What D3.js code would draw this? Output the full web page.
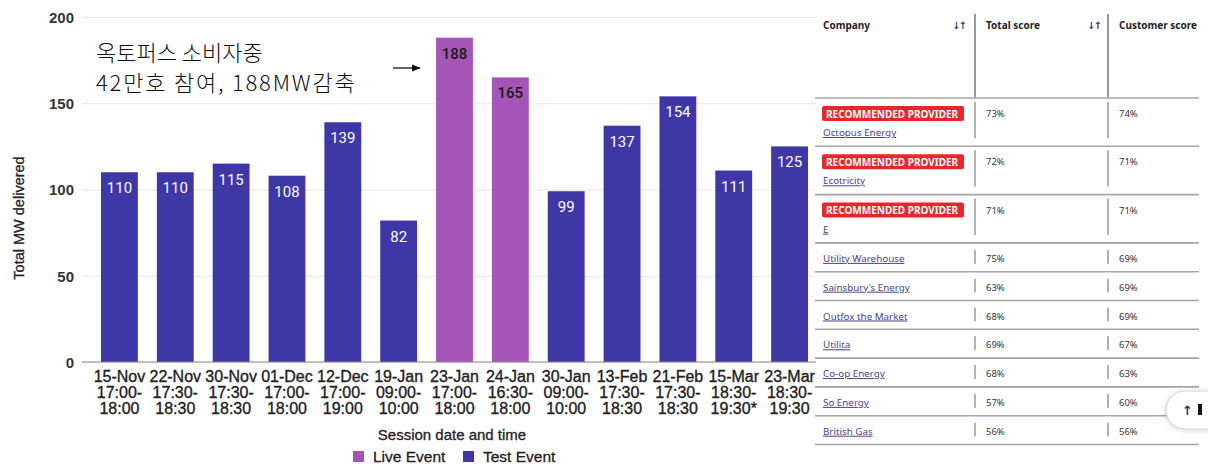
<!DOCTYPE html>
<html>
<head>
<meta charset="utf-8">
<script src="https://cdn.jsdelivr.net/npm/d3@7"></script>
<style>
  body { margin: 0; background: #fff; }
  svg { display: block; }
  .grid line { stroke: #e6e6e6; }
  .grid text { font-family: "Liberation Sans", Arial, sans-serif; font-size: 15px; font-weight: bold; fill: #333; }
  .xax text { font-family: "Liberation Sans", Arial, sans-serif; font-size: 16px; fill: #222; stroke: #222; stroke-width: 0.35px; }
  .tbl text { font-family: "Noto Sans", "Open Sans", sans-serif; }
</style>
</head>
<body>
<svg width="1208" height="468"></svg>
<script>
// chart data
var sessions = ["15-Nov", "22-Nov", "30-Nov", "01-Dec", "12-Dec", "19-Jan", "23-Jan", "24-Jan", "30-Jan", "13-Feb", "21-Feb", "15-Mar", "23-Mar"];
var startTimes = ["17:00-", "17:30-", "17:30-", "17:00-", "17:00-", "09:00-", "17:00-", "16:30-", "09:00-", "17:30-", "17:30-", "18:30-", "18:30-"];
var endTimes = ["18:00", "18:30", "18:30", "18:00", "19:00", "10:00", "18:00", "18:00", "10:00", "18:30", "18:30", "19:30*", "19:30"];
var mwDelivered = [110, 110, 115, 108, 139, 82, 188, 165, 99, 137, 154, 111, 125];
var eventType = ["Test", "Test", "Test", "Test", "Test", "Test", "Live", "Live", "Test", "Test", "Test", "Test", "Test"];
var yTicks = [0, 50, 100, 150, 200];
var legendKeys = ["Live Event", "Test Event"];

// table data (right side)
var companies = ["Octopus Energy", "Ecotricity", "E", "Utility Warehouse", "Sainsbury's Energy", "Outfox the Market", "Utilita", "Co-op Energy", "So Energy", "British Gas"];
var recommended = [true, true, true, false, false, false, false, false, false, false];
var totalScore = ["73%", "72%", "71%", "75%", "63%", "68%", "69%", "68%", "57%", "56%"];
var customerScore = ["74%", "71%", "71%", "69%", "69%", "69%", "67%", "63%", "60%", "56%"];

var svg = d3.select("svg");

var color = { Test: "#3e37a5", Live: "#a455b6" };

var x = d3.scaleBand().domain(sessions).range([91.5, 817.5]).paddingInner(0.34).paddingOuter(0.17);
var y = d3.scaleLinear().domain([0, 200]).range([362, 17]);

var left = 82, right = 816;

// gridlines + y labels
var grid = svg.append("g")
    .attr("class", "grid")
    .attr("transform", "translate(" + left + ",0)")
    .call(d3.axisLeft(y).tickValues(yTicks).tickSize(-(right - left)).tickPadding(8));
grid.select(".domain").remove();
grid.selectAll(".tick text").attr("dy", "0.36em");

// bars
svg.append("g").selectAll("rect")
    .data(mwDelivered)
  .enter().append("rect")
    .attr("x", function(d, i) { return x(sessions[i]); })
    .attr("y", function(d) { return y(d); })
    .attr("width", x.bandwidth())
    .attr("height", function(d) { return y(0) - y(d); })
    .attr("fill", function(d, i) { return color[eventType[i]]; });

// value labels
svg.append("g").selectAll("text")
    .data(mwDelivered)
  .enter().append("text")
    .attr("x", function(d, i) { return x(sessions[i]) + x.bandwidth() / 2; })
    .attr("y", function(d) { return y(d) + 21; })
    .attr("text-anchor", "middle")
    .attr("font-family", "Roboto, sans-serif")
    .attr("font-size", 15)
    .attr("font-weight", function(d, i) { return eventType[i] == "Live" ? 500 : 400; })
    .attr("fill", function(d, i) { return eventType[i] == "Live" ? "#1a1a1a" : "#fff"; })
    .text(function(d) { return d; });

// baseline
svg.append("line")
    .attr("x1", left).attr("x2", right)
    .attr("y1", y(0)).attr("y2", y(0))
    .attr("stroke", "#8a8a8a").attr("stroke-width", 1.2);

// x axis, three line labels
var xax = svg.append("g")
    .attr("class", "xax")
    .attr("transform", "translate(0," + y(0) + ")")
    .call(d3.axisBottom(x).tickSize(0).tickPadding(0));
xax.select(".domain").remove();
xax.selectAll(".tick text").each(function(d, i) {
  var t = d3.select(this).text(null).attr("y", 0).attr("dy", null);
  t.append("tspan").attr("x", 0).attr("y", 20).text(d);
  t.append("tspan").attr("x", 0).attr("y", 36).text(startTimes[i]);
  t.append("tspan").attr("x", 0).attr("y", 52).text(endTimes[i]);
});

// axis titles
svg.append("text")
    .attr("x", 452).attr("y", 440)
    .attr("text-anchor", "middle")
    .attr("font-family", "Liberation Sans, Arial, sans-serif")
    .attr("font-size", 15)
    .attr("fill", "#222").attr("stroke", "#222").attr("stroke-width", 0.3)
    .text("Session date and time");

svg.append("text")
    .attr("transform", "translate(24,218) rotate(-90)")
    .attr("text-anchor", "middle")
    .attr("font-family", "Liberation Sans, Arial, sans-serif")
    .attr("font-size", 14.5)
    .attr("fill", "#222").attr("stroke", "#222").attr("stroke-width", 0.3)
    .text("Total MW delivered");

// legend
var legend = svg.append("g").selectAll("g")
    .data(legendKeys)
  .enter().append("g")
    .attr("transform", function(d, i) { return "translate(" + (353 + i * 110) + ",451)"; });
legend.append("rect")
    .attr("width", 11).attr("height", 11)
    .attr("fill", function(d) { return d == "Live Event" ? color.Live : color.Test; });
legend.append("text")
    .attr("x", 20).attr("y", 11)
    .attr("font-family", "Liberation Sans, Arial, sans-serif")
    .attr("font-size", 15.5)
    .attr("fill", "#222").attr("stroke", "#222").attr("stroke-width", 0.3)
    .text(function(d) { return d; });

// korean annotation
var note = svg.append("text")
    .attr("font-family", "Noto Sans CJK KR, sans-serif")
    .attr("font-size", 22)
    .attr("font-weight", 300)
    .attr("fill", "#111");
note.append("tspan").attr("x", 96).attr("y", 61).text("옥토퍼스 소비자중");
note.append("tspan").attr("x", 96).attr("y", 91).attr("letter-spacing", 1.8).text("42만호 참여, 188MW감축");

svg.append("defs").append("marker")
    .attr("id", "arr")
    .attr("viewBox", "0 0 10 10")
    .attr("refX", 9).attr("refY", 5)
    .attr("markerWidth", 7).attr("markerHeight", 7)
    .attr("orient", "auto")
  .append("path")
    .attr("d", "M0,1L10,5L0,9z")
    .attr("fill", "#111");
svg.append("line")
    .attr("x1", 393).attr("x2", 420)
    .attr("y1", 68).attr("y2", 68)
    .attr("stroke", "#111").attr("stroke-width", 1.3)
    .attr("marker-end", "url(#arr)");

// ---- table on the right ----
svg.select("defs").append("clipPath")
    .attr("id", "tclip")
  .append("rect")
    .attr("x", 815).attr("y", 0).attr("width", 384).attr("height", 468);

var tbl = svg.append("g").attr("class", "tbl").attr("clip-path", "url(#tclip)");
var tx0 = 815, tx1 = 1199, col1 = 975, col2 = 1108;

// row edges
var edges = [98];
companies.forEach(function(c, i) {
  edges.push(edges[i] + (recommended[i] ? 48.3 : 28.8));
});

// header
tbl.append("text").attr("x", 823).attr("y", 29).attr("font-size", 10).attr("font-weight", "bold").attr("fill", "#222").text("Company");
tbl.append("text").attr("x", 986).attr("y", 29).attr("font-size", 10).attr("font-weight", "bold").attr("fill", "#222").text("Total score");
tbl.append("text").attr("x", 1119).attr("y", 29).attr("font-size", 10).attr("font-weight", "bold").attr("fill", "#222").text("Customer score");
[952, 1087].forEach(function(xx) {
  tbl.append("text").attr("x", xx).attr("y", 29)
      .style("font-family", "DejaVu Sans, sans-serif")
      .attr("font-size", 10).attr("font-weight", "bold")
      .attr("letter-spacing", -2)
      .attr("fill", "#4d3590").text("↓↑");
});
[col1, col2].forEach(function(xx) {
  tbl.append("line").attr("x1", xx).attr("x2", xx).attr("y1", 14).attr("y2", 98)
      .attr("stroke", "#777").attr("stroke-width", 1.5);
});

// horizontal row lines
tbl.selectAll(".hl")
    .data(edges)
  .enter().append("line")
    .attr("x1", tx0).attr("x2", tx1)
    .attr("y1", function(d) { return d; }).attr("y2", function(d) { return d; })
    .attr("stroke", "#a9a4a4").attr("stroke-width", 1.6);

var rows = tbl.selectAll(".row")
    .data(companies)
  .enter().append("g")
    .attr("transform", function(d, i) { return "translate(0," + edges[i] + ")"; });

// cell dividers
rows.each(function(d, i) {
  var g = d3.select(this), h = edges[i + 1] - edges[i];
  [col1, col2].forEach(function(xx) {
    g.append("line").attr("x1", xx).attr("x2", xx)
        .attr("y1", recommended[i] ? 4 : 7).attr("y2", h - 8)
        .attr("stroke", "#999").attr("stroke-width", 1.5);
  });
});

var badge = rows.filter(function(d, i) { return recommended[i]; });
badge.append("rect")
    .attr("x", 822).attr("y", 8).attr("width", 142).attr("height", 15).attr("rx", 2)
    .attr("fill", "#e8262b");
badge.append("text")
    .attr("x", 826).attr("y", 19.5)
    .attr("font-size", 10).attr("font-weight", "bold")
    .attr("fill", "#fff")
    .text("RECOMMENDED PROVIDER");

rows.append("text")
    .attr("x", 823)
    .attr("y", function(d, i) { return recommended[i] ? 38 : 19; })
    .attr("font-size", 9.8)
    .attr("fill", "#4a3f88")
    .attr("text-decoration", "underline")
    .text(function(d) { return d; });

rows.append("text")
    .attr("x", 986)
    .attr("y", 19)
    .attr("font-size", 9.5)
    .attr("fill", "#333")
    .text(function(d, i) { return totalScore[i]; });

rows.append("text")
    .attr("x", 1119)
    .attr("y", 19)
    .attr("font-size", 9.5)
    .attr("fill", "#333")
    .text(function(d, i) { return customerScore[i]; });

// floating "back to top" pill, cut by the screenshot edge
var pill = svg.append("g");
pill.append("rect")
    .attr("x", 1166).attr("y", 391).attr("width", 80).attr("height", 38).attr("rx", 19)
    .attr("fill", "#fff").attr("stroke", "#d8d8d8").attr("stroke-width", 1.2)
    .style("filter", "drop-shadow(0 1px 3px rgba(0,0,0,0.15))");
pill.append("text")
    .attr("x", 1182).attr("y", 415)
    .style("font-family", "DejaVu Sans, sans-serif")
    .attr("font-size", 13).attr("font-weight", "bold")
    .attr("fill", "#3a2f70")
    .text("↑");
pill.append("rect")
    .attr("x", 1198).attr("y", 404).attr("width", 4).attr("height", 11)
    .attr("fill", "#111");
</script>
</body>
</html>
